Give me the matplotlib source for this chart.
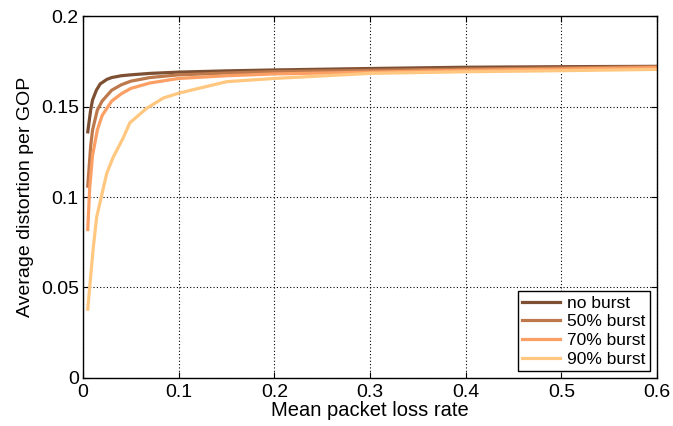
import matplotlib
matplotlib.use("Agg")
import matplotlib.pyplot as plt
import numpy as np

plt.rcParams['font.family'] = ['Liberation Sans', 'DejaVu Sans']

x_no = [0.005, 0.008, 0.01, 0.014, 0.018, 0.025, 0.03, 0.04, 0.05, 0.07, 0.1, 0.15, 0.2, 0.3, 0.4, 0.5, 0.6]
y_no = [0.136, 0.148, 0.1536, 0.159, 0.1625, 0.1650, 0.1660, 0.1670, 0.1675, 0.1683, 0.1690, 0.1697, 0.1702, 0.1710, 0.1717, 0.1720, 0.1722]

x_50 = [0.005, 0.008, 0.01, 0.015, 0.02, 0.03, 0.04, 0.05, 0.07, 0.1, 0.15, 0.2, 0.3, 0.4, 0.5, 0.6]
y_50 = [0.106, 0.128, 0.137, 0.148, 0.153, 0.159, 0.162, 0.164, 0.1660, 0.1675, 0.1685, 0.1693, 0.1700, 0.1707, 0.1713, 0.1720]

x_70 = [0.005, 0.007, 0.01, 0.015, 0.02, 0.03, 0.04, 0.05, 0.07, 0.1, 0.15, 0.2, 0.3, 0.4, 0.5, 0.6]
y_70 = [0.082, 0.105, 0.123, 0.137, 0.145, 0.153, 0.157, 0.160, 0.1630, 0.1655, 0.1670, 0.1680, 0.1690, 0.1700, 0.1707, 0.1715]

x_90 = [0.005, 0.0105, 0.0143, 0.0248, 0.0316, 0.042, 0.049, 0.0666, 0.084, 0.101, 0.15, 0.2, 0.3, 0.4, 0.5, 0.6]
y_90 = [0.038, 0.0707, 0.089, 0.113, 0.122, 0.1326, 0.141, 0.149, 0.1547, 0.1575, 0.1637, 0.1655, 0.1683, 0.1692, 0.1698, 0.1705]

labels = ['no burst', '50% burst', '70% burst', '90% burst']
cmap = plt.get_cmap('copper')
colors = [cmap(0.4), cmap(0.6), cmap(0.8), cmap(1.0)]

fig = plt.figure(figsize=(6.73, 4.26), dpi=100)
ax = fig.add_axes([0.1233, 0.1127, 0.8529, 0.8497])

for xs, ys, lab, c in zip([x_no, x_50, x_70, x_90], [y_no, y_50, y_70, y_90], labels, colors):
    ax.plot(xs, ys, color=c, lw=2.3, label=lab)

ax.set_xlim(0, 0.6)
ax.set_ylim(0, 0.2)
ax.set_xticks([0, 0.1, 0.2, 0.3, 0.4, 0.5, 0.6])
ax.set_xticklabels(['0', '0.1', '0.2', '0.3', '0.4', '0.5', '0.6'])
ax.set_yticks([0, 0.05, 0.1, 0.15, 0.2])
ax.set_yticklabels(['0', '0.05', '0.1', '0.15', '0.2'])
ax.tick_params(direction='in', length=4, labelsize=14, top=True, right=True)
ax.tick_params(axis='x', pad=4)
ax.tick_params(axis='y', pad=3)
ax.grid(True, color='black', linestyle=(0, (1, 2)), linewidth=0.8)
for s in ax.spines.values():
    s.set_linewidth(1.0)
ax.set_xlabel('Mean packet loss rate', fontsize=14.5, labelpad=0)
ax.set_ylabel('Average distortion per GOP', fontsize=14, labelpad=5)

leg = ax.legend(loc='lower right', fontsize=12.5, fancybox=False, framealpha=1,
                edgecolor='black', borderaxespad=0.4, handlelength=2.2,
                labelspacing=0.2, borderpad=0.25, handletextpad=0.4)
leg.get_frame().set_linewidth(1.0)

fig.savefig('out.png', dpi=100)
